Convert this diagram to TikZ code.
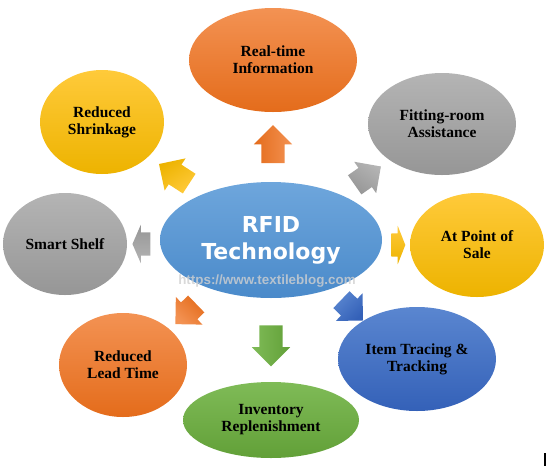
\documentclass[tikz,border=0pt]{standalone}
\usepackage{fontspec}
\setmainfont{Liberation Serif}
\newfontfamily\hubfont{DejaVu Sans}
\newfontfamily\markfont{Liberation Sans}
\usetikzlibrary{shapes.geometric,shapes.arrows}

\definecolor{OrangeTop}{HTML}{F39253}
\definecolor{OrangeBot}{HTML}{E46C1B}
\definecolor{YellowTop}{HTML}{FFCA3A}
\definecolor{YellowBot}{HTML}{EDB300}
\definecolor{GrayTop}{HTML}{B4B4B4}
\definecolor{GrayBot}{HTML}{969696}
\definecolor{HubTop}{HTML}{6EA6DC}
\definecolor{HubBot}{HTML}{4A8ACA}
\definecolor{BlueTop}{HTML}{5A86D0}
\definecolor{BlueBot}{HTML}{3461B8}
\definecolor{GreenTop}{HTML}{7FBB57}
\definecolor{GreenBot}{HTML}{62A038}
\definecolor{MarkGray}{HTML}{D0D0D0}

\begin{document}
\begin{tikzpicture}[x=1pt,y=-1pt,
    bubble/.style={ellipse,inner sep=0pt,align=center,
      font=\bfseries\fontsize{15.5}{17}\selectfont},
    hub/.style={ellipse,inner sep=0pt,align=center,text=white,
      font=\hubfont\bfseries\fontsize{22}{27}\selectfont},
    block/.style={single arrow,inner xsep=0pt,inner ysep=11.5pt,
      minimum width=38pt,single arrow head extend=7.5pt},
    pointer/.style={rotate=#1,shading angle=-#1},
    orangefill/.style={top color=OrangeTop,bottom color=OrangeBot},
    yellowfill/.style={top color=YellowTop,bottom color=YellowBot},
    grayfill/.style={top color=GrayTop,bottom color=GrayBot},
    hubfill/.style={top color=HubTop,bottom color=HubBot},
    bluefill/.style={top color=BlueTop,bottom color=BlueBot},
    greenfill/.style={top color=GreenTop,bottom color=GreenBot}]
  \useasboundingbox (0,0) rectangle (549,472);

  % outer bubbles
  \node[bubble,orangefill,minimum width=168pt,minimum height=104pt] (realtime) at (273,60) {Real-time\\Information};
  \node[bubble,grayfill,minimum width=148pt,minimum height=102pt] (fitting) at (442,124) {Fitting-room\\Assistance};
  \node[bubble,yellowfill,minimum width=134pt,minimum height=104pt] (pos) at (477,245) {At Point of\\Sale};
  \node[bubble,bluefill,minimum width=158pt,minimum height=104pt] (tracing) at (417,359) {Item Tracing \&\\Tracking};
  \node[bubble,greenfill,minimum width=176pt,minimum height=76pt] (inventory) at (271,420) {Inventory\\Replenishment};
  \node[bubble,orangefill,minimum width=128pt,minimum height=104pt] (leadtime) at (123,365) {Reduced\\Lead Time};
  \node[bubble,grayfill,minimum width=124pt,minimum height=102pt] (shelf) at (65,244) {Smart Shelf};
  \node[bubble,yellowfill,minimum width=124pt,minimum height=104pt] (shrinkage) at (102,122) {Reduced\\Shrinkage};

  % hub
  \node[hub,hubfill,minimum width=222pt,minimum height=116pt] (rfid) at (271,240) {RFID\\Technology};
  \node[font=\markfont\bfseries\fontsize{13.4}{15}\selectfont,text=MarkGray,text opacity=0.8] (mark) at (267,281) {https://www.textileblog.com};

  % arrows
  \node[block,orangefill,pointer=90,minimum height=38pt] (toRealtime) at (273,150) {};
  \node[block,grayfill,pointer=35,minimum height=32pt] (toFitting) at (363,179) {};
  \node[block,yellowfill,pointer=0,minimum height=14pt,single arrow tip angle=137] (toPos) at (396,245) {};
  \node[block,bluefill,pointer=316,minimum height=30pt] (toTracing) at (348,306) {};
  \node[block,greenfill,pointer=270,minimum height=41pt] (toInventory) at (271,340) {};
  \node[block,orangefill,pointer=224,minimum height=29pt] (toLeadtime) at (190,310) {};
  \node[block,grayfill,pointer=180,minimum height=18pt,single arrow tip angle=133] (toShelf) at (144,244) {};
  \node[block,yellowfill,pointer=147,minimum height=36pt] (toShrinkage) at (179,177) {};

  \draw[line width=1.5pt] (545,453) -- (545,466);
\end{tikzpicture}
\end{document}
